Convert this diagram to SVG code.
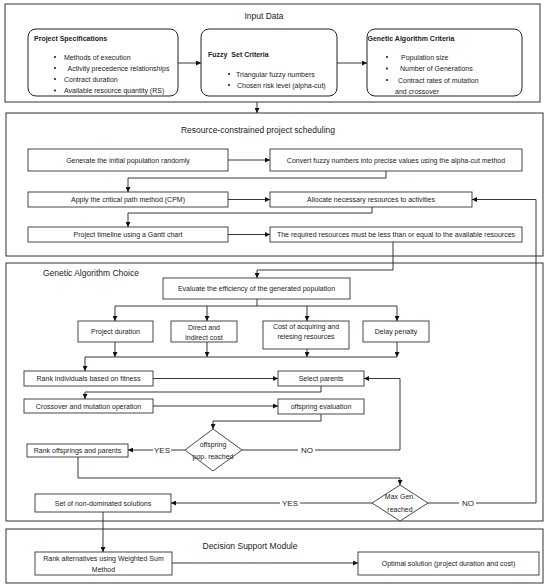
<svg xmlns="http://www.w3.org/2000/svg" width="550" height="585" viewBox="0 0 550 585">
<defs>
<marker id="ah" viewBox="0 0 6 6" refX="6" refY="3" markerWidth="5" markerHeight="5" markerUnits="userSpaceOnUse" orient="auto"><path d="M0,0 L6,3 L0,6 z" fill="#111"/></marker>
<style>
.sec{fill:#fff;stroke:#333;stroke-width:1}
.box{fill:#fff;stroke:#333;stroke-width:0.9}
.rbox{fill:#fff;stroke:#222;stroke-width:1}
.t{font-family:"Liberation Sans",Arial,sans-serif;font-size:7px;fill:#222}
.c{text-anchor:middle}
.b{font-weight:bold}
.h{font-family:"Liberation Sans",Arial,sans-serif;font-size:8.5px;fill:#222}
.lbl{font-family:"Liberation Sans",Arial,sans-serif;font-size:8px;fill:#222;text-anchor:middle}
.ln{fill:none;stroke:#222;stroke-width:0.9}
.a{marker-end:url(#ah)}
</style>
</defs>
<rect width="550" height="585" fill="#fff"/>

<g id="input-data">
<rect class="sec" x="5" y="4" width="535" height="98"/>
<text class="h c" x="264" y="19">Input Data</text>
</g>
<g id="project-specifications">
<rect class="rbox" x="28" y="29" width="150" height="67" rx="8"/>
<text class="t b" x="34" y="40.5">Project Specifications</text>
<circle cx="55" cy="57" r="1.1" fill="#222"/><text class="t" x="64" y="59.5">Methods of execution</text>
<circle cx="55" cy="68" r="1.1" fill="#222"/><text class="t" x="67.5" y="70.5">Activity precedence relationships</text>
<circle cx="55" cy="79" r="1.1" fill="#222"/><text class="t" x="64" y="81.5">Contract duration</text>
<circle cx="55" cy="90.5" r="1.1" fill="#222"/><text class="t" x="64" y="93">Available resource quantity (RS)</text>
</g>
<g id="fuzzy-set-criteria">
<rect class="rbox" x="201" y="29" width="136" height="67" rx="8"/>
<text class="t b" x="208" y="57" xml:space="preserve">Fuzzy  Set Criteria</text>
<circle cx="229" cy="74" r="1.1" fill="#222"/><text class="t" x="236" y="76.5">Triangular fuzzy numbers</text>
<circle cx="229" cy="85" r="1.1" fill="#222"/><text class="t" x="237" y="87.5">Chosen risk level (alpha-cut)</text>
</g>
<g id="ga-criteria">
<rect class="rbox" x="367" y="29" width="155" height="67" rx="8"/>
<text class="t b" x="367.5" y="40.5">Genetic Algorithm Criteria</text>
<circle cx="387" cy="57" r="1.1" fill="#222"/><text class="t" x="401" y="59.5">Population size</text>
<circle cx="387" cy="68.5" r="1.1" fill="#222"/><text class="t" x="400" y="71">Number of Generations</text>
<circle cx="387" cy="80" r="1.1" fill="#222"/><text class="t" x="398" y="82.5">Contract rates of mutation</text>
<text class="t" x="395" y="93.5">and crossover</text>
</g>

<g id="rcps">
<rect class="sec" x="6" y="113" width="537" height="143"/>
<text class="h c" x="258" y="133">Resource-constrained project scheduling</text>
</g>
<g id="generate"><rect class="box" x="28" y="149" width="200" height="22"/><text class="t c" x="128" y="162.5">Generate the initial population randomly</text></g>
<g id="convert"><rect class="box" x="270" y="149" width="252" height="22"/><text class="t c" x="396" y="162.5">Convert fuzzy numbers into precise values using the alpha-cut method</text></g>
<g id="cpm"><rect class="box" x="28" y="192" width="200" height="15"/><text class="t c" x="128" y="202">Apply the critical path method (CPM)</text></g>
<g id="allocate"><rect class="box" x="270" y="192" width="202" height="15"/><text class="t c" x="371" y="202">Allocate necessary resources to activities</text></g>
<g id="gantt"><rect class="box" x="28" y="227" width="200" height="15"/><text class="t c" x="128" y="237">Project timeline using a Gantt chart</text></g>
<g id="required"><rect class="box" x="270" y="227" width="252" height="15"/><text class="t c" x="396" y="237">The required resources must be less than or equal to the available resources</text></g>

<g id="ga-choice">
<rect class="sec" x="6" y="263" width="537" height="258"/>
<text class="h" x="43" y="276">Genetic Algorithm Choice</text>
</g>
<g id="evaluate"><rect class="box" x="163" y="278" width="187" height="21"/><text class="t c" x="256.5" y="291">Evaluate the efficiency of the generated population</text></g>
<g id="duration"><rect class="box" x="78" y="321" width="75" height="21"/><text class="t c" x="115.5" y="334">Project duration</text></g>
<g id="direct-cost"><rect class="box" x="171" y="321" width="66" height="21"/><text class="t c" x="204" y="329.5">Direct and</text><text class="t c" x="204" y="340">indirect cost</text></g>
<g id="acq-cost"><rect class="box" x="263" y="321" width="86" height="28"/><text class="t c" x="306" y="328.5">Cost of acquiring and</text><text class="t c" x="306" y="338.5">relesing resources</text></g>
<g id="delay"><rect class="box" x="363" y="321" width="66" height="21"/><text class="t c" x="396" y="334">Delay penalty</text></g>
<g id="rank-ind"><rect class="box" x="24" y="371" width="129" height="15"/><text class="t c" x="88.5" y="381">Rank individuals based on fitness</text></g>
<g id="select"><rect class="box" x="278" y="371" width="86" height="15"/><text class="t c" x="321" y="381">Select parents</text></g>
<g id="crossover"><rect class="box" x="24" y="399" width="129" height="14"/><text class="t c" x="88.5" y="408.5">Crossover and mutation operation</text></g>
<g id="off-eval"><rect class="box" x="278" y="399" width="86" height="15"/><text class="t c" x="321" y="409">offspring evaluation</text></g>
<g id="off-reached"><path class="box" d="M213,429 L242,450 L213,471 L185,450 Z"/><text class="t c" x="213" y="447">offspring</text><text class="t c" x="213" y="458.5">pop. reached</text></g>
<g id="rank-off"><rect class="box" x="27" y="444" width="101" height="13"/><text class="t c" x="77.5" y="453">Rank offsprings and parents</text></g>
<g id="max-gen"><path class="box" d="M400,485 L428,503 L400,521 L372,503 Z"/><text class="t c" x="400" y="499">Max Gen.</text><text class="t c" x="400" y="511.5">reached</text></g>
<g id="non-dominated"><rect class="box" x="35" y="494" width="136" height="18"/><text class="t c" x="103" y="505.5">Set of non-dominated solutions</text></g>

<g id="decision">
<rect class="sec" x="6" y="529" width="537" height="54"/>
<text class="h c" x="250" y="549">Decision Support Module</text>
</g>
<g id="rank-alt"><rect class="box" x="35" y="552" width="137" height="23"/><text class="t c" x="103.5" y="561">Rank alternatives using Weighted Sum</text><text class="t c" x="103.5" y="572">Method</text></g>
<g id="optimal"><rect class="box" x="358" y="552" width="181" height="23"/><text class="t c" x="448.5" y="566">Optimal solution (project duration and cost)</text></g>

<g id="connectors">
<path class="ln a" d="M178,63 H201"/>
<path class="ln a" d="M337,63 H367"/>
<path class="ln a" d="M257,102 V113"/>
<path class="ln a" d="M228,160 H270"/>
<path class="ln a" d="M386,171 V178 H128 V192"/>
<path class="ln a" d="M228,199.5 H270"/>
<path class="ln a" d="M372,207 V213 H128 V227"/>
<path class="ln a" d="M228,234.5 H270"/>
<path class="ln a" d="M393,242 V270 H257 V278"/>
<path class="ln" d="M257,299 V306 M115,306 H397"/>
<path class="ln a" d="M115,306 V321"/>
<path class="ln a" d="M207,306 V321"/>
<path class="ln a" d="M307,306 V321"/>
<path class="ln a" d="M397,306 V321"/>
<path class="ln a" d="M115,342 V357"/>
<path class="ln a" d="M207,342 V357"/>
<path class="ln a" d="M307,349 V357"/>
<path class="ln a" d="M397,342 V357"/>
<path class="ln" d="M85,357 H397"/>
<path class="ln a" d="M85,357 V371"/>
<path class="ln a" d="M153,378.5 H278"/>
<path class="ln a" d="M321,386 V392 H85 V399"/>
<path class="ln a" d="M153,406 H278"/>
<path class="ln a" d="M321,414 V421 H213 V429"/>
<path class="ln a" d="M185,450 H128"/>
<path class="ln a" d="M242,450 H400 V378.5 H364"/>
<path class="ln a" d="M78,457 V478 H400 V485"/>
<path class="ln a" d="M372,503 H171"/>
<path class="ln a" d="M428,503 H536 V199.5 H472"/>
<path class="ln a" d="M103,512 V552"/>
<path class="ln a" d="M172,563 H358"/>
<rect x="153" y="445" width="18" height="10" fill="#fff"/>
<text class="lbl" x="162" y="453">YES</text>
<rect x="298" y="445" width="17" height="10" fill="#fff"/>
<text class="lbl" x="307" y="453">NO</text>
<rect x="280" y="498" width="20" height="10" fill="#fff"/>
<text class="lbl" x="290" y="506">YES</text>
<rect x="459" y="498" width="17" height="10" fill="#fff"/>
<text class="lbl" x="468" y="506">NO</text>
</g>
</svg>
